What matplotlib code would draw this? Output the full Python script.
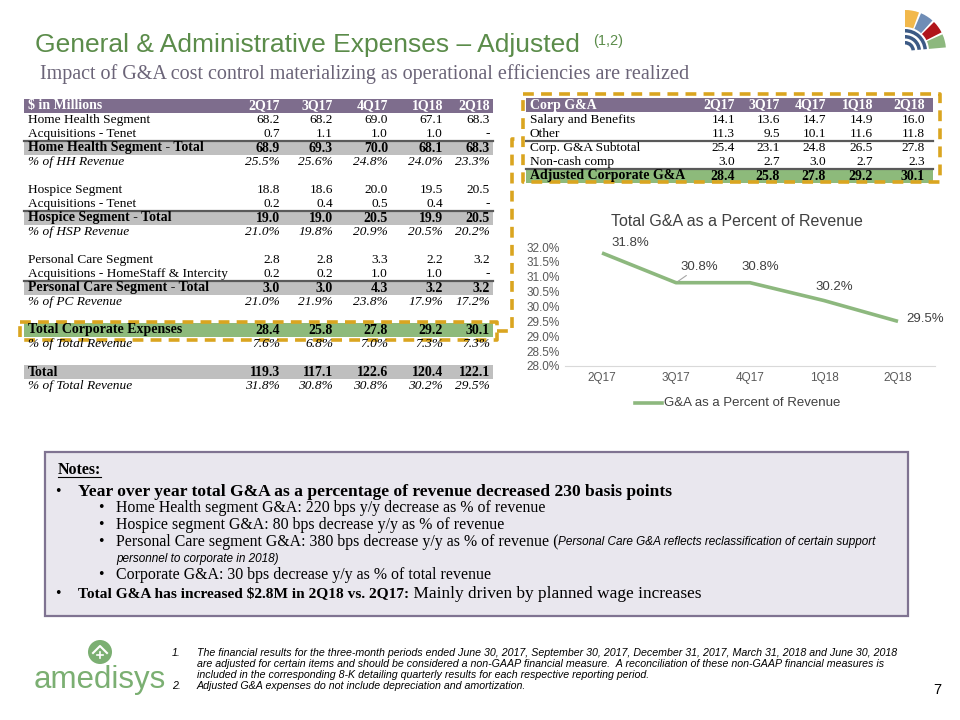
import numpy as np
import matplotlib
matplotlib.use('Agg')
import matplotlib.pyplot as plt
from matplotlib.patches import Rectangle, Wedge, Circle

# data
quarters = ['2Q17', '3Q17', '4Q17', '1Q18', '2Q18']

hh_seg = [68.2, 68.2, 69.0, 67.1, 68.3]
hh_acq = [0.7, 1.1, 1.0, 1.0, None]
hh_total = [68.9, 69.3, 70.0, 68.1, 68.3]
hh_pct = [25.5, 25.6, 24.8, 24.0, 23.3]
hsp_seg = [18.8, 18.6, 20.0, 19.5, 20.5]
hsp_acq = [0.2, 0.4, 0.5, 0.4, None]
hsp_total = [19.0, 19.0, 20.5, 19.9, 20.5]
hsp_pct = [21.0, 19.8, 20.9, 20.5, 20.2]
pc_seg = [2.8, 2.8, 3.3, 2.2, 3.2]
pc_acq = [0.2, 0.2, 1.0, 1.0, None]
pc_total = [3.0, 3.0, 4.3, 3.2, 3.2]
pc_pct = [21.0, 21.9, 23.8, 17.9, 17.2]
corp_total = [28.4, 25.8, 27.8, 29.2, 30.1]
corp_pct = [7.6, 6.8, 7.0, 7.3, 7.3]
grand_total = [119.3, 117.1, 122.6, 120.4, 122.1]
grand_pct = [31.8, 30.8, 30.8, 30.2, 29.5]

salary = [14.1, 13.6, 14.7, 14.9, 16.0]
other = [11.3, 9.5, 10.1, 11.6, 11.8]
corp_sub = [25.4, 23.1, 24.8, 26.5, 27.8]
noncash = [3.0, 2.7, 3.0, 2.7, 2.3]
adj_corp = [28.4, 25.8, 27.8, 29.2, 30.1]

# colours
GREEN_T = '#5B8C4A'
PURPLE = '#7E6D8D'
GRAY = '#BFBFBF'
GREENB = '#8DBA7B'
GOLD = '#DAA520'
LINE = '#8DB87E'
SERIF = 'Liberation Serif'
SANS = 'Liberation Sans'

fig = plt.figure(figsize=(9.6, 7.2), dpi=100)
bg = fig.add_axes([0, 0, 1, 1])
bg.set_xlim(0, 960)
bg.set_ylim(720, 0)
bg.axis('off')
rend = fig.canvas.get_renderer()


def txt(x, y, s, **kw):
    kw.setdefault('va', 'center')
    return bg.text(x, y, s, parse_math=False, **kw)


def runs(x, y, parts):
    for s, kw in parts:
        t = txt(x, y, s, **kw)
        x += t.get_window_extent(renderer=rend).width
    return x


def fmt(v, pct=False):
    if v is None:
        return '-'
    return f'{v:.1f}%' if pct else f'{v:.1f}'


# title
xe = runs(35, 45, [('General & Administrative Expenses \u2013 Adjusted',
                    dict(family=SANS, fontsize=19, color=GREEN_T))])
txt(xe + 13, 41, '(1,2)', family=SANS, fontsize=10.5, color=GREEN_T)
txt(40, 74, 'Impact of G&A cost control materializing as operational efficiencies are realized',
    family=SERIF, fontsize=14.5, color='#6B6478')

# top-right logo fan
cx, cy = 905, 51
fan = [(70, 90, '#F2B84B'), (48, 67, '#6F8DB6'), (27, 45, '#B0151B'), (5, 24, '#8DB87E')]
for a1, a2, c in fan:
    bg.add_patch(Wedge((cx, cy), 41, -a2, -a1, width=17, color=c, lw=0))
for r in (10, 16, 22):
    bg.add_patch(Wedge((cx, cy), r, -90, -5, width=3.5, color='#3C5A85', lw=0))

# left table
FS = 9.6
lcols = [280, 333, 388, 443, 490]
bg.add_patch(Rectangle((24, 99), 469, 14, color=PURPLE, lw=0))
txt(28, 106, '$ in Millions', family=SERIF, fontsize=10, color='white', weight='bold')
for q, x in zip(quarters, lcols):
    txt(x, 106, q, family=SERIF, fontsize=10, color='white', weight='bold', ha='right')

left_rows = [
    ('Home Health Segment', hh_seg, 'num'),
    ('Acquisitions - Tenet', hh_acq, 'num'),
    ('Home Health Segment - Total', hh_total, 'total'),
    ('% of HH Revenue', hh_pct, 'pct'),
    None,
    ('Hospice Segment', hsp_seg, 'num'),
    ('Acquisitions - Tenet', hsp_acq, 'num'),
    ('Hospice Segment - Total', hsp_total, 'total'),
    ('% of HSP Revenue', hsp_pct, 'pct'),
    None,
    ('Personal Care Segment', pc_seg, 'num'),
    ('Acquisitions - HomeStaff & Intercity', pc_acq, 'num'),
    ('Personal Care Segment - Total', pc_total, 'total'),
    ('% of PC Revenue', pc_pct, 'pct'),
    None,
    ('Total Corporate Expenses', corp_total, 'corp'),
    ('% of Total Revenue', corp_pct, 'pct'),
    None,
    ('Total', grand_total, 'grand'),
    ('% of Total Revenue', grand_pct, 'pct'),
]


def draw_rows(rows, x0, x1, lx, cols, y0):
    for i, row in enumerate(rows):
        if row is None:
            continue
        label, vals, kind = row
        y = y0 + 14 * i
        kw = dict(family=SERIF, fontsize=FS, color='black')
        if kind in ('total', 'grand', 'corp', 'adj'):
            bg.add_patch(Rectangle((x0, y - 7), x1 - x0, 14,
                                   color=GREENB if kind in ('corp', 'adj') else GRAY, lw=0))
            kw['weight'] = 'bold'
            kw['fontsize'] = 10
        if kind in ('total', 'adj', 'sub'):
            bg.plot([x0, x1], [y - 7, y - 7], color='#595959', lw=1.6)
        if kind == 'pct':
            kw['style'] = 'italic'
        txt(lx, y, label, **kw)
        for v, x in zip(vals, cols):
            txt(x, y, fmt(v, kind == 'pct'), ha='right', **kw)


draw_rows(left_rows, 24, 493, 28, lcols, 120)

# right table
rcols = [735, 780, 826, 873, 925]
bg.add_patch(Rectangle((526, 98), 407, 14, color=PURPLE, lw=0))
txt(530, 105, 'Corp G&A', family=SERIF, fontsize=10, color='white', weight='bold')
for q, x in zip(quarters, rcols):
    txt(x, 105, q, family=SERIF, fontsize=10, color='white', weight='bold', ha='right')
right_rows = [
    ('Salary and Benefits', salary, 'num'),
    ('Other', other, 'num'),
    ('Corp. G&A Subtotal', corp_sub, 'sub'),
    ('Non-cash comp', noncash, 'num'),
    ('Adjusted Corporate G&A', adj_corp, 'adj'),
]
draw_rows(right_rows, 526, 933, 530, rcols, 120)

# dashed callouts
dash = dict(color=GOLD, lw=2.6, ls=(0, (3, 2)))
bg.plot([20, 497, 497, 20, 20], [322, 322, 340, 340, 322], **dash)
bg.plot([523, 940, 940, 523, 523], [94, 94, 182, 182, 94], **dash)
bg.plot([497, 512, 512, 523], [331, 331, 139, 139], **dash)

# chart
ax = fig.add_axes([565 / 960, 1 - 366 / 720, 370 / 960, 119 / 720])
ax.patch.set_alpha(0)
xs = np.arange(len(quarters))
ax.plot(xs, grand_pct, color=LINE, lw=2.6, solid_capstyle='butt',
        label='G&A as a Percent of Revenue')
ax.set_xlim(-0.5, len(quarters) - 0.5)
ax.set_ylim(28, 32)
ax.set_yticks(np.arange(28, 32.01, 0.5))
ax.set_yticklabels([f'{v:.1f}%' for v in np.arange(28, 32.01, 0.5)])
ax.set_xticks(xs)
ax.set_xticklabels(quarters)
ax.tick_params(length=0, labelsize=8.5, labelcolor='#595959', pad=4)
for lab in ax.get_xticklabels() + ax.get_yticklabels():
    lab.set_family(SANS)
for s in ('top', 'right', 'left'):
    ax.spines[s].set_visible(False)
ax.spines['bottom'].set_color('#D9D9D9')
offsets = [(28, 10), (23, 16), (10, 16), (10, 14), (27, 2)]
for i, (v, off) in enumerate(zip(grand_pct, offsets)):
    arrow = dict(arrowstyle='-', color='#A6A6A6', lw=0.8, shrinkA=0, shrinkB=2) if i == 1 else None
    ax.annotate(f'{v:.1f}%', (i, v), xytext=off, textcoords='offset pixels',
                ha='center', va='center', fontsize=9.5, family=SANS, color='#404040',
                arrowprops=arrow, annotation_clip=False)
txt(737, 221, 'Total G&A as a Percent of Revenue', family=SANS, fontsize=11.5,
    color='#404040', ha='center')
bg.plot([635, 662], [403, 403], color=LINE, lw=2.6)
txt(664, 403, 'G&A as a Percent of Revenue', family=SANS, fontsize=9.5, color='#404040')

# notes box
bg.add_patch(Rectangle((45, 452), 863, 164, facecolor='#E9E7EE', edgecolor='#7F7391', lw=1.6))
nt = txt(58, 470, 'Notes:', family=SERIF, fontsize=11.5, weight='bold', color='black')
bb = nt.get_window_extent(renderer=rend)
bg.plot([58, 58 + bb.width], [477, 477], color='black', lw=0.8)
main = dict(family=SERIF, color='black')
sub = dict(family=SERIF, fontsize=11.4, color='black')
small = dict(family=SANS, fontsize=8.5, style='italic', color='black')
txt(55, 492, '\u2022', fontsize=11.5, **main)
txt(78, 492, 'Year over year total G&A as a percentage of revenue decreased 230 basis points',
    weight='bold', fontsize=12.6, **main)
sub_lines = [
    (508, 'Home Health segment G&A: 220 bps y/y decrease as % of revenue'),
    (525, 'Hospice segment G&A: 80 bps decrease y/y as % of revenue'),
    (575, 'Corporate G&A: 30 bps decrease y/y as % of total revenue'),
]
for y, s in sub_lines:
    txt(98, y, '\u2022', **sub)
    txt(116, y, s, **sub)
txt(98, 542, '\u2022', **sub)
runs(116, 542, [('Personal Care segment G&A: 380 bps decrease y/y as % of revenue (', sub),
                ('Personal Care G&A reflects reclassification of certain support', small)])
txt(116, 559, 'personnel to corporate in 2018)', **small)
txt(55, 594, '\u2022', fontsize=11.5, **main)
runs(78, 594, [('Total G&A has increased $2.8M in 2Q18 vs. 2Q17:', dict(weight='bold', fontsize=11.1, **main)),
               (' Mainly driven by planned wage increases', dict(fontsize=12.4, **main))])

# footer logo
LG = '#7BAF72'
bg.add_patch(Circle((100, 652), 12, color=LG, lw=0))
bg.plot([93, 100, 107], [653, 646, 653], color='white', lw=1.5)
bg.plot([100, 100], [652, 658], color='white', lw=1.2)
bg.plot([97, 103], [655, 655], color='white', lw=1.2)
txt(34, 680, 'amedisys', family=SANS, fontsize=22.5, color=LG)

foot = dict(family=SANS, fontsize=7.7, style='italic', color='black')
txt(172, 653, '1.', **foot)
txt(197, 653, 'The financial results for the three-month periods ended June 30, 2017, September 30, 2017, '
    'December 31, 2017, March 31, 2018 and June 30, 2018', **foot)
txt(197, 664, 'are adjusted for certain items and should be considered a non-GAAP financial measure.  '
    'A reconciliation of these non-GAAP financial measures is', **foot)
txt(197, 675, 'included in the corresponding 8-K detailing quarterly results for each respective reporting period.',
    **foot)
txt(172, 686, '2.', **foot)
txt(197, 686, 'Adjusted G&A expenses do not include depreciation and amortization.', **foot)
txt(937, 690, '7', family=SANS, fontsize=10.5, color='black', ha='center')

fig.savefig('out.png', dpi=100)
